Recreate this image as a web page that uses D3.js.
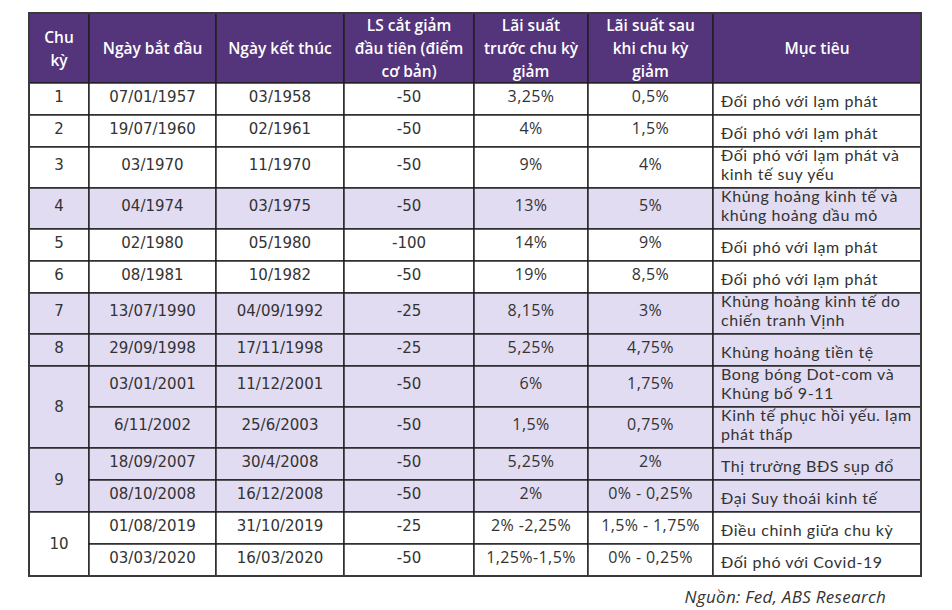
<!DOCTYPE html>
<html>
<head>
<meta charset="utf-8">
<script src="https://cdn.jsdelivr.net/npm/d3@7/dist/d3.min.js"></script>
<style>
  body { margin: 0; background: #fff; }
  svg { display: block; }
</style>
</head>
<body>
<svg></svg>
<script>
// header labels (explicit line breaks as in the picture)
let headers = [
  "Chu\nkỳ",
  "Ngày bắt đầu",
  "Ngày kết thúc",
  "LS cắt giảm\nđầu tiên (điểm\ncơ bản)",
  "Lãi suất\ntrước chu kỳ\ngiảm",
  "Lãi suất sau\nkhi chu kỳ\ngiảm",
  "Mục tiêu"
];

// chu kỳ column, merged cells
let cycleLabels = ["1", "2", "3", "4", "5", "6", "7", "8", "8", "9", "10"];
let cycleSpans = [1, 1, 1, 1, 1, 1, 1, 1, 2, 2, 2];

// one entry per table row
let startDates = ["07/01/1957", "19/07/1960", "03/1970", "04/1974", "02/1980", "08/1981",
  "13/07/1990", "29/09/1998", "03/01/2001", "6/11/2002", "18/09/2007", "08/10/2008",
  "01/08/2019", "03/03/2020"];
let endDates = ["03/1958", "02/1961", "11/1970", "03/1975", "05/1980", "10/1982",
  "04/09/1992", "17/11/1998", "11/12/2001", "25/6/2003", "30/4/2008", "16/12/2008",
  "31/10/2019", "16/03/2020"];
let firstCuts = ["-50", "-50", "-50", "-50", "-100", "-50", "-25", "-25", "-50", "-50",
  "-50", "-50", "-25", "-50"];
let rateBefore = ["3,25%", "4%", "9%", "13%", "14%", "19%", "8,15%", "5,25%", "6%", "1,5%",
  "5,25%", "2%", "2% -2,25%", "1,25%-1,5%"];
let rateAfter = ["0,5%", "1,5%", "4%", "5%", "9%", "8,5%", "3%", "4,75%", "1,75%", "0,75%",
  "2%", "0% - 0,25%", "1,5% - 1,75%", "0% - 0,25%"];
let goals = [
  "Đối phó với lạm phát",
  "Đối phó với lạm phát",
  "Đối phó với lạm phát và\nkinh tế suy yếu",
  "Khủng hoảng kinh tế và\nkhủng hoảng dầu mỏ",
  "Đối phó với lạm phát",
  "Đối phó với lạm phát",
  "Khủng hoảng kinh tế do\nchiến tranh Vịnh",
  "Khủng hoảng tiền tệ",
  "Bong bóng Dot-com và\nKhủng bố 9-11",
  "Kinh tế phục hồi yếu. lạm\nphát thấp",
  "Thị trường BĐS sụp đổ",
  "Đại Suy thoái kinh tế",
  "Điều chỉnh giữa chu kỳ",
  "Đối phó với Covid-19"
];
let sourceNote = "Nguồn: Fed, ABS Research";

// layout
let width = 952;
let height = 610;
let left = 29;
let top0 = 13;
let headerH = 70;
let colWidths = [60, 127, 128, 130, 114, 125, 208];
let shadedGroups = [3, 6, 7, 8, 9]; // index in cycleLabels
let purple = "#54347b";
let lavender = "#e2dcf2";
let border = "#1e1e1e";
let textCol = "#333";

let svg = d3.select("svg").attr("width", width).attr("height", height);

let colEdges = [left].concat(Array.from(d3.cumsum(colWidths), (d) => left + d));

let rowHeights = goals.map((g) => g.includes("\n") ? 41 : 32);
let rowTops = [top0 + headerH];
rowHeights.forEach((h, i) => rowTops.push(rowTops[i] + h));

// which group each row belongs to
let rowGroup = [];
cycleSpans.forEach((s, gi) => { for (let k = 0; k < s; k++) rowGroup.push(gi); });
let groupStart = [];
let acc = 0;
cycleSpans.forEach((s) => { groupStart.push(acc); acc += s; });

let x = (c) => colEdges[c];
let w = (c) => colEdges[c + 1] - colEdges[c];

// header
let head = svg.append("g");
head.selectAll("rect")
  .data(headers)
  .enter()
  .append("rect")
  .attr("x", (d, i) => x(i))
  .attr("y", top0)
  .attr("width", (d, i) => w(i))
  .attr("height", headerH)
  .attr("fill", purple)
  .attr("stroke", border)
  .attr("stroke-width", 1.4);

head.selectAll("text")
  .data(headers)
  .enter()
  .append("text")
  .attr("text-anchor", "middle")
  .attr("fill", "#fff")
  .style("font-family", "'Open Sans', sans-serif")
  .style("font-weight", 600)
  .style("font-size", "15.5px")
  .each(function (d, i) {
    let lines = d.split("\n");
    let cx = x(i) + w(i) / 2;
    let mid = top0 + headerH / 2 + 6;
    d3.select(this).selectAll("tspan")
      .data(lines)
      .enter()
      .append("tspan")
      .attr("x", cx)
      .attr("y", (l, j) => mid + (j - (lines.length - 1) / 2) * 23)
      .text((l) => l);
  });

// body cells
let body = svg.append("g");
let rows = d3.range(goals.length);

// chu kỳ merged cells
body.selectAll("rect.cycle")
  .data(cycleLabels)
  .enter()
  .append("rect")
  .attr("class", "cycle")
  .attr("x", x(0))
  .attr("y", (d, i) => rowTops[groupStart[i]])
  .attr("width", w(0))
  .attr("height", (d, i) => rowTops[groupStart[i] + cycleSpans[i]] - rowTops[groupStart[i]])
  .attr("fill", (d, i) => shadedGroups.includes(i) ? lavender : "#fff")
  .attr("stroke", border)
  .attr("stroke-width", 1.4);

body.selectAll("text.cycle")
  .data(cycleLabels)
  .enter()
  .append("text")
  .attr("class", "cycle")
  .attr("x", x(0) + w(0) / 2)
  .attr("y", (d, i) => {
    let t = rowTops[groupStart[i]];
    let b = rowTops[groupStart[i] + cycleSpans[i]];
    return cycleSpans[i] > 1 ? (t + b) / 2 + 5 : t + (b - t) / 2 + 2.5;
  })
  .attr("text-anchor", "middle")
  .attr("fill", textCol)
  .style("font-family", "'DejaVu Sans', sans-serif")
  .style("font-size", "15px")
  .text((d) => d);

let columns = [
  { values: startDates, font: "'DejaVu Sans', sans-serif", size: "15px", ls: 0 },
  { values: endDates, font: "'DejaVu Sans', sans-serif", size: "15px", ls: 0 },
  { values: firstCuts, font: "'DejaVu Sans', sans-serif", size: "15px", ls: 0 },
  { values: rateBefore, font: "'Open Sans', sans-serif", size: "16px", ls: 0.4 },
  { values: rateAfter, font: "'Open Sans', sans-serif", size: "16px", ls: 0.4 }
];

columns.forEach((col, ci) => {
  let c = ci + 1;
  let g = body.append("g");
  g.selectAll("rect")
    .data(rows)
    .enter()
    .append("rect")
    .attr("x", x(c))
    .attr("y", (r) => rowTops[r])
    .attr("width", w(c))
    .attr("height", (r) => rowHeights[r])
    .attr("fill", (r) => shadedGroups.includes(rowGroup[r]) ? lavender : "#fff")
    .attr("stroke", border)
    .attr("stroke-width", 1.4);
  g.selectAll("text")
    .data(rows)
    .enter()
    .append("text")
    .attr("x", x(c) + w(c) / 2)
    .attr("y", (r) => rowTops[r] + rowHeights[r] / 2 + 2.5)
    .attr("text-anchor", "middle")
    .attr("fill", textCol)
    .style("font-family", col.font)
    .style("font-size", col.size)
    .style("letter-spacing", col.ls + "px")
    .text((r) => col.values[r]);
});

// mục tiêu column
let gc = body.append("g");
gc.selectAll("rect")
  .data(rows)
  .enter()
  .append("rect")
  .attr("x", x(6))
  .attr("y", (r) => rowTops[r])
  .attr("width", w(6))
  .attr("height", (r) => rowHeights[r])
  .attr("fill", (r) => shadedGroups.includes(rowGroup[r]) ? lavender : "#fff")
  .attr("stroke", border)
  .attr("stroke-width", 1.4);

gc.selectAll("text")
  .data(rows)
  .enter()
  .append("text")
  .attr("fill", textCol)
  .style("font-family", "Lato, sans-serif")
  .style("font-size", "16px")
  .style("letter-spacing", "0.55px")
  .each(function (r) {
    let lines = goals[r].split("\n");
    let bottom = rowTops[r] + rowHeights[r];
    d3.select(this).selectAll("tspan")
      .data(lines)
      .enter()
      .append("tspan")
      .attr("x", x(6) + 8)
      .attr("y", (l, j) => bottom - 8.5 - (lines.length - 1 - j) * 18.5)
      .text((l) => l);
  });

// outer frame
svg.append("rect")
  .attr("x", left)
  .attr("y", top0)
  .attr("width", colEdges[colEdges.length - 1] - left)
  .attr("height", rowTops[rowTops.length - 1] - top0)
  .attr("fill", "none")
  .attr("stroke", "#3a3a3a")
  .attr("stroke-width", 2);

// source
svg.append("text")
  .attr("x", 886)
  .attr("y", 603)
  .attr("text-anchor", "end")
  .attr("fill", textCol)
  .style("font-family", "'Open Sans', sans-serif")
  .style("font-style", "italic")
  .style("font-size", "17px")
  .style("letter-spacing", "0.3px")
  .text(sourceNote);
</script>
</body>
</html>
